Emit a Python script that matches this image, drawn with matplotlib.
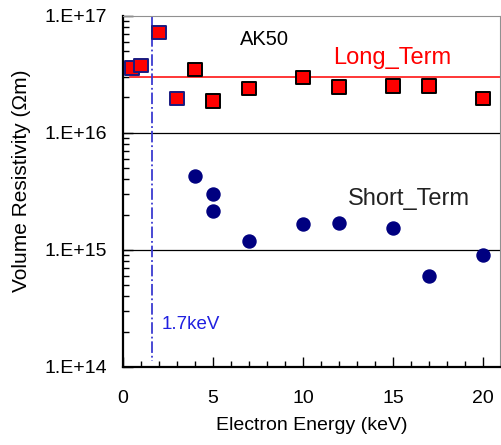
import numpy as np
import matplotlib
matplotlib.use("Agg")
import matplotlib.pyplot as plt
from matplotlib.ticker import FixedLocator, FuncFormatter, MultipleLocator

plt.rcParams['font.family'] = ['Liberation Sans', 'DejaVu Sans']

# long term data (squares)
long_x = [0.5, 1, 2, 3, 4, 5, 7, 10, 12, 15, 17, 20]
long_y = [3.56e16, 3.74e16, 7.15e16, 1.95e16, 3.48e16, 1.87e16, 2.40e16,
          2.98e16, 2.45e16, 2.51e16, 2.51e16, 1.97e16]
long_edge = ['#1a1a80', '#1a1a80', '#1a1a80', '#1a1a80', 'black', 'black',
             'black', 'black', 'black', 'black', 'black', 'black']

# short term data (circles)
short_x = [4, 5, 5, 7, 10, 12, 15, 17, 20]
short_y = [4.29e15, 3.0e15, 2.13e15, 1.20e15, 1.66e15, 1.70e15, 1.54e15,
           5.94e14, 9.1e14]

long_level = 3.0e16
cutoff = 1.6

fig = plt.figure(figsize=(5.01, 4.45), dpi=100)
ax = fig.add_axes([0.2455, 0.1753, 0.7525, 0.7897])

ax.set_yscale('log')
ax.set_xlim(0, 20.95)
ax.set_ylim(1e14, 1e17)

# gridlines
for g in [1e15, 1e16]:
    ax.axhline(g, color='black', lw=0.9, zorder=1)

ax.plot([0.4, 20.95], [long_level, long_level], color='red', lw=1.1, zorder=2)
ax.plot([cutoff, cutoff], [1e17, 1.12e14], color='#3a3ad0', lw=1.3,
        linestyle='-.', zorder=2)

ax.scatter(long_x, long_y, marker='s', s=92, facecolor='red',
           edgecolors=long_edge, linewidths=1.4, zorder=4)
ax.scatter(short_x, short_y, marker='o', s=88, color='#000080', zorder=4)

# labels inside the plot
ax.text(6.5, 5.61e16, 'AK50', fontsize=14.5, ha='left', va='baseline')
ax.text(11.65, 3.87e16, 'Long_Term', color='red', fontsize=17, ha='left', va='baseline')
ax.text(12.5, 2.43e15, 'Short_Term', color='#222222', fontsize=17, ha='left', va='baseline')
ax.text(2.15, 2.12e14, '1.7keV', color='#2020e0', fontsize=13.5, ha='left', va='baseline')

ax.xaxis.set_major_locator(MultipleLocator(5))
ax.xaxis.set_minor_locator(MultipleLocator(1))
ax.yaxis.set_major_locator(FixedLocator([1e14, 1e15, 1e16, 1e17]))
ax.yaxis.set_major_formatter(FuncFormatter(lambda v, p: '1.E+%d' % round(np.log10(v))))

ax.tick_params(axis='both', which='both', direction='in', labelsize=14)
ax.tick_params(axis='y', which='major', length=7, width=1, pad=11.5)
ax.tick_params(axis='y', which='minor', length=4, width=1)
ax.tick_params(axis='x', which='major', length=7, width=1, pad=16.5)
ax.tick_params(axis='x', which='minor', length=4, width=1)
ax.tick_params(top=False, right=False, which='both')

ax.spines['left'].set_linewidth(1.6)
ax.spines['bottom'].set_linewidth(1.6)
ax.spines['top'].set_color('#909090')
ax.spines['right'].set_color('#909090')

ax.set_xlabel('Electron Energy (keV)', fontsize=14, labelpad=7)
ax.set_ylabel('Volume Resistivity (\u03a9m)', fontsize=15)
ax.yaxis.set_label_coords(-0.243, 0.529)

fig.savefig('out.png', dpi=100)
